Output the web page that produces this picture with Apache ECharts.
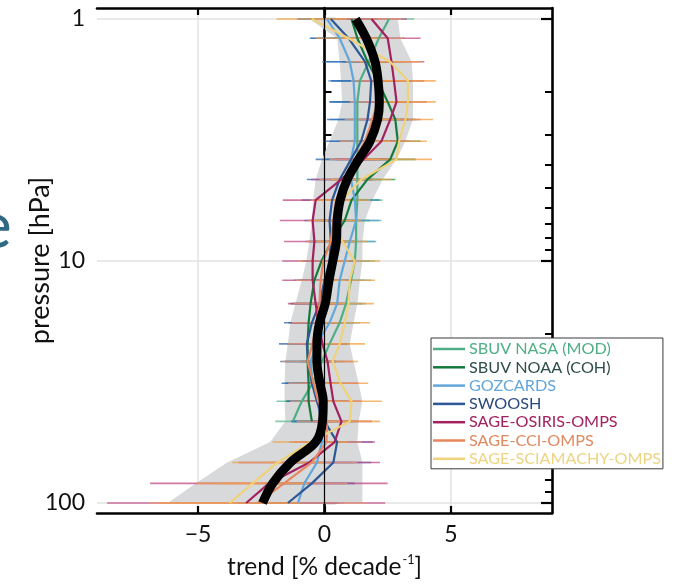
<!DOCTYPE html>
<html>
<head>
<meta charset="utf-8">
<script src="https://cdn.jsdelivr.net/npm/echarts@6/dist/echarts.min.js"></script>
<style>
  html, body { margin: 0; padding: 0; background: #ffffff; }
  #chart { width: 676px; height: 587px; }
</style>
</head>
<body>
<div id="chart"></div>
<script>
// Pressure levels [hPa] of the trend profiles
const pressure = [1, 1.2, 1.5, 1.8, 2.2, 2.6, 3.2, 3.8, 4.6, 5.6, 6.8, 8.3, 10, 12, 15, 18, 22, 26, 32, 38, 46, 56, 68, 83, 100];

// Trend profiles [% per decade] and their uncertainty half-widths
const sbuvNasa     = [2.55, 2.15, 1.75, 1.4, 1.3, 1.3, 1.3, 1.3, 1.3, 1.3, 1.25, 1.25, 1.2, 1.05, 0.85, 0.6, 0.2, -0.1, -0.47, -0.9, -1.25];
const sbuvNasaErr  = [1.0, 1.0, 1.0, 0.9, 0.9, 0.8, 0.8, 0.9, 0.9, 1.0, 0.9, 0.8, 0.8, 0.8, 0.8, 0.8, 0.8, 0.9, 1.0, 1.0, 0.7];
const sbuvNoaa     = [1.07, 1.3, 1.7, 2.1, 2.5, 2.8, 2.9, 2.6, 1.7, 1.07, 0.8, 0.28, -0.12, -0.4, -0.55, -0.63, -0.67, -0.67, -0.63, -0.63, -0.5];
const sbuvNoaaErr  = [1.0, 1.0, 1.0, 0.9, 0.9, 0.8, 0.9, 1.0, 1.1, 1.1, 1.0, 0.9, 0.8, 0.8, 0.8, 0.8, 0.8, 0.9, 0.9, 0.9, 0.8];
const gozcards     = [0.1, 0.6, 1.0, 1.15, 1.2, 1.2, 1.2, 1.05, 1.05, 1.2, 1.25, 1.0, 0.8, 0.6, 0.5, 0.2, -0.3, -0.55, -0.47, -0.3, -0.1, -0.1, -0.3, -0.8, -1.05];
const gozcardsErr  = [1.2, 1.2, 1.1, 1.0, 1.0, 1.0, 1.0, 1.0, 1.0, 1.0, 1.0, 1.0, 1.0, 1.0, 1.0, 1.0, 1.0, 1.0, 1.1, 1.1, 1.2, 1.3, 1.4, 1.6, 1.8];
const swoosh       = [0.25, 0.95, 1.6, 1.85, 1.8, 1.7, 1.45, 1.05, 0.6, 0.3, 0.2, 0.25, 0.2, 0.0, -0.2, -0.5, -0.7, -0.65, -0.5, -0.3, 0.0, 0.5, 0.35, -0.5, -1.45];
const swooshErr    = [1.3, 1.5, 1.6, 1.6, 1.6, 1.6, 1.5, 1.4, 1.3, 1.2, 1.0, 1.0, 1.0, 1.0, 1.0, 1.1, 1.1, 1.1, 1.2, 1.2, 1.3, 1.4, 1.5, 1.7, 2.0];
const sageOsiris   = [1.86, 2.5, 2.65, 2.75, 2.85, 2.6, 2.25, 1.55, 0.67, -0.35, -0.47, -0.4, -0.47, -0.47, -0.35, -0.24, -0.08, 0.12, 0.24, 0.35, 0.67, 0.4, -0.6, -2.2, -3.1];
const sageOsirisErr= [1.4, 1.3, 1.3, 1.2, 1.2, 1.2, 1.1, 1.1, 1.2, 1.3, 1.3, 1.2, 1.2, 1.2, 1.1, 1.1, 1.0, 1.0, 1.1, 1.1, 1.2, 1.6, 2.8, 4.7, 5.5];
const sageCci      = [1.25, 1.8, 2.05, 2.15, 2.1, 1.9, 1.6, 1.2, 0.8, 0.45, 0.35, 0.25, -0.05, -0.15, -0.2, -0.3, -0.47, -0.67, -0.43, -0.25, 0.1, 0.08, -0.5, -1.6, -2.65];
const sageCciErr   = [1.8, 1.3, 1.2, 1.1, 1.1, 1.1, 1.0, 1.0, 1.0, 1.0, 1.0, 1.0, 1.0, 1.0, 1.0, 1.0, 1.0, 1.0, 1.0, 1.1, 1.2, 1.4, 1.8, 2.5, 4.3];
const sageScia     = [-0.5, 0.95, 2.6, 3.3, 3.3, 3.2, 2.95, 2.85, 1.45, 0.7, 0.45, 0.7, 1.2, 1.0, 0.95, 0.8, 0.6, 0.32, 0.63, 1.07, 1.0, -0.55, -1.85, -2.85, -3.75];
const sageSciaErr  = [1.4, 1.3, 1.2, 1.1, 1.1, 1.1, 1.1, 1.4, 1.2, 1.1, 1.0, 1.0, 1.0, 1.0, 1.0, 1.0, 1.0, 1.0, 1.1, 1.2, 1.2, 1.5, 1.8, 2.2, 2.8];

// Merged mean trend and its spread
const meanTrend = [1.23, 1.65, 2.0, 2.12, 2.17, 2.1, 1.8, 1.35, 0.9, 0.62, 0.5, 0.47, 0.33, 0.18, 0.03, -0.2, -0.3, -0.3, -0.18, -0.05, -0.08, -0.35, -1.35, -2.05, -2.45];
const bandLow   = [-0.6, 0.5, 0.6, 0.65, 0.7, 0.55, 0.2, -0.1, -0.35, -0.45, -0.5, -0.6, -0.72, -0.9, -1.15, -1.35, -1.45, -1.55, -1.58, -1.58, -1.55, -2.15, -3.85, -5.1, -6.2];
const bandHigh  = [2.9, 3.0, 3.45, 3.5, 3.5, 3.5, 3.2, 2.85, 2.3, 1.9, 1.6, 1.5, 1.5, 1.4, 1.3, 1.15, 1.0, 1.15, 1.35, 1.5, 1.35, 1.3, 1.5, 1.5, 1.5];

// Axis ticks
const xTicks = [-5, 0, 5];
const yMajor = [1, 10, 100];
const yMinor = [2, 3, 4, 5, 6, 7, 8, 9, 20, 30, 40, 50, 60, 70, 80, 90];

const datasets = [
  { name: 'SBUV NASA (MOD)',     values: sbuvNasa,   err: sbuvNasaErr,   color: '#4fae86', errColor: '#5dbb92', text: '#4fae86' },
  { name: 'SBUV NOAA (COH)',     values: sbuvNoaa,   err: sbuvNoaaErr,   color: '#147a3c', errColor: '#1f8a47', text: '#2f4d4a' },
  { name: 'GOZCARDS',            values: gozcards,   err: gozcardsErr,   color: '#62a6da', errColor: '#5a9fd6', text: '#62a6da' },
  { name: 'SWOOSH',              values: swoosh,     err: swooshErr,     color: '#2c5894', errColor: '#2f66b0', text: '#2a4a7c' },
  { name: 'SAGE-OSIRIS-OMPS',    values: sageOsiris, err: sageOsirisErr, color: '#a3215f', errColor: '#c04a86', text: '#a3215f' },
  { name: 'SAGE-CCI-OMPS',       values: sageCci,    err: sageCciErr,    color: '#e8875d', errColor: '#ee9a74', text: '#e08a62' },
  { name: 'SAGE-SCIAMACHY-OMPS', values: sageScia,   err: sageSciaErr,   color: '#efd27a', errColor: '#f2a242', text: '#ecd482' }
];

const FONT = 'Lato';

const chart = echarts.init(document.getElementById('chart'), null, { renderer: 'canvas' });

function clampLine(params, a, b) {
  const cs = params.coordSys;
  const x1 = Math.max(cs.x, Math.min(cs.x + cs.width, a[0]));
  const x2 = Math.max(cs.x, Math.min(cs.x + cs.width, b[0]));
  return { x1: x1, y1: a[1], x2: x2, y2: b[1] };
}

const series = [];

// Spread of the merged trend
series.push({
  type: 'custom',
  name: 'spread',
  z: 1,
  silent: true,
  data: pressure.map((p, i) => [meanTrend[i], p]),
  renderItem: function (params, api) {
    if (params.dataIndex !== 0) return null;
    const pts = [];
    for (let i = 0; i < pressure.length; i++) pts.push(api.coord([bandHigh[i], pressure[i]]));
    for (let i = pressure.length - 1; i >= 0; i--) pts.push(api.coord([bandLow[i], pressure[i]]));
    return { type: 'polygon', shape: { points: pts }, style: { fill: '#d8d9db' } };
  }
});

// Zero-trend reference line
series.push({
  type: 'line',
  name: 'zero',
  z: 1.5,
  data: [],
  silent: true,
  markLine: {
    silent: true,
    symbol: 'none',
    label: { show: false },
    lineStyle: { color: '#000', width: 1.2, type: 'solid' },
    data: [{ xAxis: 0 }]
  }
});

// Uncertainty bars
datasets.forEach(d => {
  series.push({
    type: 'custom',
    name: d.name + ' err',
    z: 2,
    silent: true,
    data: d.values.map((v, i) => [v, pressure[i], d.err[i]]),
    renderItem: function (params, api) {
      const c = api.value(0), p = api.value(1), h = api.value(2);
      const a = api.coord([c - h, p]);
      const b = api.coord([c + h, p]);
      return {
        type: 'line',
        shape: clampLine(params, a, b),
        style: { stroke: d.errColor, lineWidth: 1.6, opacity: 0.75 }
      };
    }
  });
});

// Trend profiles
datasets.forEach(d => {
  series.push({
    type: 'line',
    name: d.name,
    z: 3,
    data: d.values.map((v, i) => [v, pressure[i]]),
    showSymbol: false,
    symbol: 'none',
    lineStyle: { color: d.color, width: 2.2 },
    itemStyle: { color: d.color },
    emphasis: { disabled: true }
  });
});

// Merged mean trend
series.push({
  type: 'line',
  name: 'mean',
  z: 4,
  data: meanTrend.map((v, i) => [v, pressure[i]]),
  showSymbol: false,
  symbol: 'none',
  smooth: 0.35,
  lineStyle: { color: '#000', width: 9, cap: 'butt', join: 'round' },
  emphasis: { disabled: true }
});

const axisLineStyle = { show: true, lineStyle: { color: '#000', width: 2.6 } };

const option = {
  animation: false,
  backgroundColor: '#ffffff',
  grid: { left: 97, right: 124, top: 8, bottom: 74, containLabel: false },
  legend: {
    orient: 'vertical',
    left: 431,
    top: 338,
    padding: [3, 2, 2, 2],
    backgroundColor: '#ffffff',
    borderColor: '#3a3a3a',
    borderWidth: 1,
    borderRadius: 0,
    itemWidth: 32,
    itemHeight: 2.5,
    itemGap: 2.3,
    icon: 'rect',
    selectedMode: false,
    textStyle: { fontFamily: FONT, fontSize: 16.2, lineHeight: 16, padding: [0, 0, 0, -1] },
    data: datasets.map(d => ({ name: d.name, itemStyle: { color: d.color }, textStyle: { color: d.text } }))
  },
  graphic: [
    {
      type: 'text',
      left: -23,
      top: 194,
      silent: true,
      style: { text: 'e', font: '66px ' + FONT, fill: '#2f6a82' }
    }
  ],
  xAxis: [
    {
      type: 'value',
      position: 'bottom',
      min: -9,
      max: 9,
      name: '{t|trend [% decade}{s|-1}{t|]}',
      nameLocation: 'middle',
      nameGap: 40,
      nameTextStyle: {
        rich: {
          t: { fontFamily: FONT, fontSize: 24.5, color: '#111', verticalAlign: 'bottom', lineHeight: 27 },
          s: { fontFamily: FONT, fontSize: 12.5, color: '#111', verticalAlign: 'top', padding: [0, 0, 13, 1], lineHeight: 27 }
        }
      },
      axisLine: axisLineStyle,
      axisTick: { show: true, inside: true, length: 7, customValues: xTicks, lineStyle: { color: '#000', width: 2.2 } },
      axisLabel: { show: true, customValues: xTicks, margin: 10, fontFamily: FONT, fontSize: 23, color: '#111',
        formatter: v => (v < 0 ? '\u2212' + Math.abs(v) : String(v)) },
      splitLine: { show: true, lineStyle: { color: '#e2e2e2', width: 1.5 } }
    },
    {
      type: 'value',
      position: 'top',
      min: -9,
      max: 9,
      axisLine: axisLineStyle,
      axisTick: { show: true, inside: true, length: 7, customValues: xTicks, lineStyle: { color: '#000', width: 2.2 } },
      axisLabel: { show: false },
      splitLine: { show: false }
    }
  ],
  yAxis: [
    {
      type: 'log',
      logBase: 10,
      position: 'left',
      inverse: true,
      min: 0.9,
      max: 110,
      name: 'pressure [hPa]',
      nameLocation: 'middle',
      nameGap: 43,
      nameMoveOverlap: false,
      nameTextStyle: { fontFamily: FONT, fontSize: 27, color: '#111' },
      axisLine: axisLineStyle,
      axisTick: { show: true, inside: true, length: 11, customValues: yMajor, lineStyle: { color: '#000', width: 2.2 } },
      axisLabel: { show: true, customValues: yMajor, margin: 12, fontFamily: FONT, fontSize: 23, color: '#111',
        formatter: v => String(Math.round(v)) },
      splitLine: { show: true, lineStyle: { color: '#e2e2e2', width: 1.5 } }
    },
    {
      type: 'log',
      logBase: 10,
      position: 'left',
      inverse: true,
      min: 0.9,
      max: 110,
      axisLine: { show: false },
      axisTick: { show: true, inside: true, length: 7, customValues: yMinor, lineStyle: { color: '#000', width: 2 } },
      axisLabel: { show: false },
      splitLine: { show: false }
    },
    {
      type: 'log',
      logBase: 10,
      position: 'right',
      inverse: true,
      min: 0.9,
      max: 110,
      axisLine: axisLineStyle,
      axisTick: { show: true, inside: true, length: 11, customValues: yMajor, lineStyle: { color: '#000', width: 2.2 } },
      axisLabel: { show: false },
      splitLine: { show: false }
    },
    {
      type: 'log',
      logBase: 10,
      position: 'right',
      inverse: true,
      min: 0.9,
      max: 110,
      axisLine: { show: false },
      axisTick: { show: true, inside: true, length: 7, customValues: yMinor, lineStyle: { color: '#000', width: 2 } },
      axisLabel: { show: false },
      splitLine: { show: false }
    }
  ],
  series: series
};

chart.setOption(option);
</script>
</body>
</html>
